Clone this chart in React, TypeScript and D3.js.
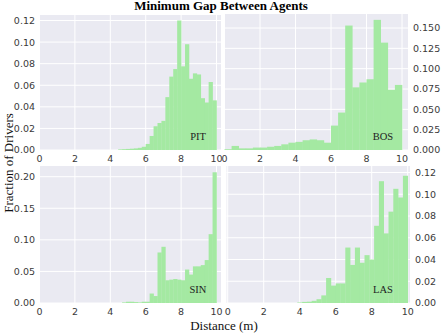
import { useEffect, useRef } from "react";
import * as d3 from "d3";

// PIT: 45 bins on [0, 10], first non-empty bin index 20
const pitFirstBin = 20;
const pitValues = [
  0.0006, 0.0008, 0.001, 0.0012, 0.0015, 0.002, 0.003, 0.0056, 0.013, 0.022,
  0.025, 0.027, 0.049, 0.068, 0.075, 0.12, 0.0775, 0.098, 0.066, 0.071, 0.07,
  0.048, 0.044, 0.063, 0.046,
];

// BOS: 25 bins on [0, 10]
const bosValues = [
  0.001, 0.005, 0.002, 0.002, 0.003, 0.003, 0.004, 0.005, 0.007, 0.009, 0.01,
  0.012, 0.013, 0.012, 0.009, 0.03, 0.046, 0.153, 0.077, 0.083, 0.087, 0.16,
  0.132, 0.074, 0.08,
];

// SIN: 45 bins on [0, 10], first non-empty bin index 21
const sinFirstBin = 21;
const sinValues = [
  0.001, 0.002, 0.002, 0.0015, 0.001, 0.002, 0.002, 0.015, 0.011, 0.08, 0.089,
  0.036, 0.037, 0.038, 0.037, 0.036, 0.053, 0.045, 0.058, 0.058, 0.06, 0.068,
  0.109, 0.207,
];

// LAS: bins of width 4/15 ending at 10
const lasValues = [
  0.0005, 0.001, 0.0012, 0.002, 0.0035, 0.007, 0.023, 0.016, 0.018, 0.018,
  0.051, 0.035, 0.051, 0.037, 0.044, 0.04, 0.071, 0.112, 0.064, 0.084, 0.105,
  0.097, 0.117,
];

const xTicks = [0, 2, 4, 6, 8, 10];
const pitTicks = [0, 0.02, 0.04, 0.06, 0.08, 0.1, 0.12];
const bosTicks = [0, 0.025, 0.05, 0.075, 0.1, 0.125, 0.15];
const sinTicks = [0, 0.05, 0.1, 0.15, 0.2];
const lasTicks = [0, 0.02, 0.04, 0.06, 0.08, 0.1, 0.12];

const BG = "#eaeaf2";
const BAR = "#a4e9a2";
const TICK = "#3a3a3a";
const SERIF = "'Liberation Serif', 'Times New Roman', serif";
const SANS = "'DejaVu Sans', sans-serif";

export default function App() {
  const ref = useRef<SVGSVGElement>(null);

  useEffect(() => {
    if (!ref.current) return;
    const svg = d3.select(ref.current);
    svg.selectAll("*").remove();

    const pitW = 10 / 45;
    const lasW = 4 / 15;
    const panels = [
      {
        label: "PIT",
        bins: pitValues.map((v, i) => ({ x0: (pitFirstBin + i) * pitW, x1: (pitFirstBin + i + 1) * pitW, v })),
        ticks: pitTicks, fmt: d3.format(".2f"), side: "left",
        box: { l: 39.5, r: 221, t: 15, b: 150 }, x0: 39.5, x10: 216.5, yTop: 0.12, yTopPx: 20.5,
        lab: [198, 139.5],
      },
      {
        label: "BOS",
        bins: bosValues.map((v, i) => ({ x0: i * 0.4, x1: (i + 1) * 0.4, v })),
        ticks: bosTicks, fmt: d3.format(".3f"), side: "right",
        box: { l: 224.5, r: 408, t: 14, b: 150 }, x0: 224.5, x10: 402, yTop: 0.15, yTopPx: 28,
        lab: [383, 139.5],
      },
      {
        label: "SIN",
        bins: sinValues.map((v, i) => ({ x0: (sinFirstBin + i) * pitW, x1: (sinFirstBin + i + 1) * pitW, v })),
        ticks: sinTicks, fmt: d3.format(".2f"), side: "left",
        box: { l: 39.5, r: 221, t: 166, b: 303 }, x0: 39.5, x10: 216.5, yTop: 0.2, yTopPx: 176.7,
        lab: [198, 293],
      },
      {
        label: "LAS",
        bins: lasValues.map((v, i) => {
          const s = 10 - (lasValues.length - i) * lasW;
          return { x0: s, x1: s + lasW, v };
        }),
        ticks: lasTicks, fmt: d3.format(".2f"), side: "right",
        box: { l: 226.5, r: 410, t: 166, b: 303 }, x0: 227.7, x10: 407.7, yTop: 0.12, yTopPx: 172.5,
        lab: [383, 293],
      },
    ];

    panels.forEach((p) => {
      const x = d3.scaleLinear().domain([0, 10]).range([p.x0, p.x10]);
      const y = d3.scaleLinear().domain([0, p.yTop]).range([p.box.b, p.yTopPx]);
      const g = svg.append("g");

      g.append("rect")
        .attr("x", p.box.l)
        .attr("y", p.box.t)
        .attr("width", p.box.r - p.box.l)
        .attr("height", p.box.b - p.box.t)
        .attr("fill", BG);

      // grid
      g.selectAll(".gy")
        .data(p.ticks)
        .enter()
        .append("line")
        .attr("x1", p.box.l)
        .attr("x2", p.box.r)
        .attr("y1", (d) => y(d))
        .attr("y2", (d) => y(d))
        .attr("stroke", "#fff")
        .attr("stroke-width", 1);
      g.selectAll(".gx")
        .data(xTicks)
        .enter()
        .append("line")
        .attr("x1", (d) => x(d))
        .attr("x2", (d) => x(d))
        .attr("y1", p.box.t)
        .attr("y2", p.box.b)
        .attr("stroke", "#fff")
        .attr("stroke-width", 1);

      // bars
      g.selectAll(".bar")
        .data(p.bins)
        .enter()
        .append("rect")
        .attr("x", (d) => x(d.x0))
        .attr("width", (d) => x(d.x1) - x(d.x0) + 0.3)
        .attr("y", (d) => y(d.v))
        .attr("height", (d) => y(0) - y(d.v))
        .attr("fill", BAR);

      // y tick labels
      const left = p.side === "left";
      g.selectAll(".yt")
        .data(p.ticks)
        .enter()
        .append("text")
        .attr("x", left ? p.box.l - 4.5 : p.box.r + 5)
        .attr("y", (d) => y(d))
        .attr("dy", "0.36em")
        .attr("text-anchor", left ? "end" : "start")
        .style("font-family", SANS)
        .style("font-size", "9.5px")
        .style("fill", TICK)
        .text((d) => p.fmt(d));

      // x tick labels
      g.selectAll(".xt")
        .data(xTicks)
        .enter()
        .append("text")
        .attr("x", (d) => x(d))
        .attr("y", p.box.b + 8.5)
        .attr("dy", "0.36em")
        .attr("text-anchor", "middle")
        .style("font-family", SANS)
        .style("font-size", "9.5px")
        .style("fill", TICK)
        .text((d) => d);

      g.append("text")
        .attr("x", p.lab[0])
        .attr("y", p.lab[1])
        .attr("text-anchor", "middle")
        .style("font-family", SERIF)
        .style("font-size", "10.5px")
        .style("fill", "#222")
        .text(p.label);
    });

    svg.append("text")
      .attr("x", 221)
      .attr("y", 10)
      .attr("text-anchor", "middle")
      .style("font-family", SERIF)
      .style("font-size", "13px")
      .style("font-weight", "bold")
      .style("fill", "#000")
      .text("Minimum Gap Between Agents");

    svg.append("text")
      .attr("x", 224)
      .attr("y", 330)
      .attr("text-anchor", "middle")
      .style("font-family", SERIF)
      .style("font-size", "13px")
      .style("fill", "#111")
      .text("Distance (m)");

    svg.append("text")
      .attr("transform", "translate(12.5,163) rotate(-90)")
      .attr("text-anchor", "middle")
      .style("font-family", SERIF)
      .style("font-size", "13px")
      .style("fill", "#111")
      .text("Fraction of Drivers");
  }, []);

  return (
    <svg
      ref={ref}
      width={442}
      height={334}
      style={{ position: "absolute", left: 0, top: 0, background: "#fff" }}
    />
  );
}
